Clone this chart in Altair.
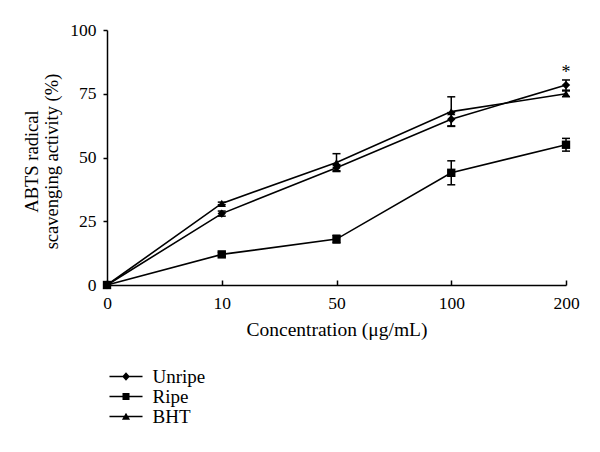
import altair as alt
import pandas as pd

conc = ["0", "10", "50", "100", "200"]
series_names = ["Unripe", "Ripe", "BHT"]
unripe = [0, 28, 46, 65, 78.4]
unripe_err = [0, 1.0, 1.2, 2.6, 2.0]
ripe = [0, 12, 18, 44, 55]
ripe_err = [0, 0.8, 1.5, 4.7, 2.5]
bht = [0, 32, 48, 68, 75]
bht_err = [0, 0.5, 3.5, 5.8, 1.1]
y_ticks = [0, 25, 50, 75, 100]
annot_text = ["*"]
annot_series = ["Unripe"]
annot_conc = ["200"]

FONT = "Liberation Serif"

rows = []
for name, vals, errs in [("Unripe", unripe, unripe_err), ("Ripe", ripe, ripe_err), ("BHT", bht, bht_err)]:
    for c, v, e in zip(conc, vals, errs):
        rows.append({"conc": c, "series": name, "value": v, "lo": v - e, "hi": v + e, "err": e})
df = pd.DataFrame(rows)

ann_rows = []
for t, s, c in zip(annot_text, annot_series, annot_conc):
    r = df[(df.series == s) & (df.conc == c)].iloc[0]
    ann_rows.append({"conc": c, "value": r["hi"], "text": t})
ann = pd.DataFrame(ann_rows)

xscale = alt.Scale(type="point", padding=0)
yscale = alt.Scale(domain=[0, 100], nice=False)

x_main = alt.X("conc:N", sort=conc, scale=xscale,
               axis=alt.Axis(orient="bottom", title="Concentration (μg/mL)", labelAngle=0,
                             ticks=False, domainColor="black", domainWidth=1.5,
                             labelFont=FONT, labelFontSize=17.5, labelColor="black", labelPadding=9,
                             titleFont=FONT, titleFontSize=19.5, titleFontWeight="normal",
                             titleColor="black", titlePadding=9))
x_ticks = alt.X("conc:N", sort=conc, scale=xscale,
                axis=alt.Axis(orient="top", offset=-255, labels=False, domain=False,
                              ticks=True, tickSize=5, tickColor="black", tickWidth=1.5, title=None))
x_plain = alt.X("conc:N", sort=conc, scale=xscale, axis=None)

y_axis = alt.Axis(values=y_ticks, title=["ABTS radical", "scavenging activity (%)"],
                  tickSize=4, tickColor="black", tickWidth=1.5,
                  domainColor="black", domainWidth=1.5, grid=False,
                  labelFont=FONT, labelFontSize=17.5, labelColor="black", labelPadding=7,
                  titleFont=FONT, titleFontSize=18.5, titleFontWeight="normal",
                  titleColor="black", titleLineHeight=20, titleX=-76, titleY=131,
                  titleBaseline="middle")


def ych(field):
    return alt.Y(field, scale=yscale, axis=y_axis, title=["ABTS radical", "scavenging activity (%)"])


base = alt.Chart(df)

lines = base.mark_line(color="black", strokeWidth=1.6).encode(
    x=x_main, y=ych("value:Q"), detail="series:N")

rules = base.mark_rule(color="black", strokeWidth=1.5).encode(
    x=x_plain, y=ych("lo:Q"), y2="hi:Q")

caps_hi = base.mark_tick(color="black", thickness=1.5, size=8, opacity=1).encode(
    x=x_plain, y=ych("hi:Q"))
caps_lo = base.mark_tick(color="black", thickness=1.5, size=8, opacity=1).encode(
    x=x_plain, y=ych("lo:Q"))

points = base.mark_point(filled=True, color="black", size=70, opacity=1).encode(
    x=x_ticks, y=ych("value:Q"),
    shape=alt.Shape("series:N", scale=alt.Scale(domain=series_names,
                                                range=["diamond", "square", "triangle-up"]),
                    legend=None))

line_seg = "M-2.36,-0.11 L2.36,-0.11 L2.36,0.11 L-2.36,0.11 Z "
legend_paths = [
    line_seg + "M0,-0.62 L0.55,0 L0,0.62 L-0.55,0 Z",
    line_seg + "M-0.5,-0.5 L0.5,-0.5 L0.5,0.5 L-0.5,0.5 Z",
    line_seg + "M0,-0.55 L0.58,0.45 L-0.58,0.45 Z",
]

legend_layer = base.transform_filter("false").mark_point(filled=True, color="black", opacity=1).encode(
    x=x_plain, y=ych("value:Q"),
    shape=alt.Shape("series:N", scale=alt.Scale(domain=series_names, range=legend_paths),
                    legend=alt.Legend(orient="none", legendX=9.5, legendY=337, title=None,
                                      symbolSize=196, symbolFillColor="black",
                                      symbolStrokeColor="black", symbolStrokeWidth=0,
                                      symbolOpacity=1, labelFont=FONT, labelFontSize=19,
                                      labelColor="black", labelOffset=17, padding=0,
                                      rowPadding=0)))

stars = alt.Chart(ann).mark_text(font=FONT, fontSize=18, color="black", baseline="alphabetic", dy=-2).encode(
    x=x_plain, y=ych("value:Q"), text="text:N")

chart = alt.layer(lines, rules, caps_hi, caps_lo, points, legend_layer, stars).resolve_scale(
    shape="independent").resolve_axis(x="independent").properties(
    width=459, height=255,
    autosize=alt.AutoSizeParams(type="none"),
    padding={"left": 99, "top": 22, "right": 26, "bottom": 159},
).configure_view(stroke=None)

chart.save("out.html", embed_options={"renderer": "svg", "actions": False})
